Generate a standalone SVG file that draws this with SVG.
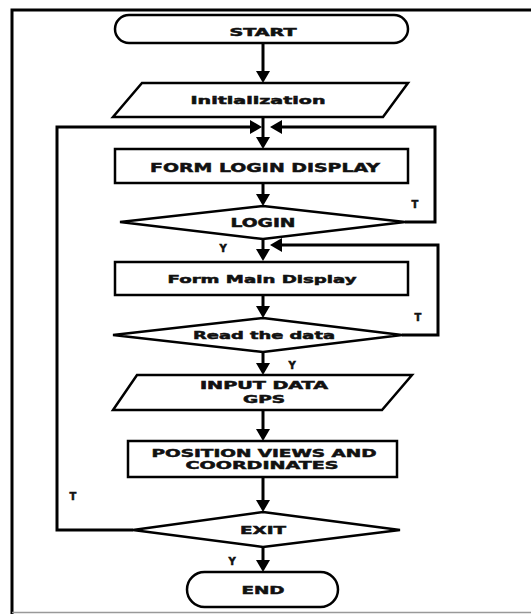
<svg xmlns="http://www.w3.org/2000/svg" width="531" height="614" viewBox="0 0 531 614">
<defs>
<marker id="arr" viewBox="0 0 12 14" refX="8" refY="7" markerWidth="12" markerHeight="14" orient="auto" markerUnits="userSpaceOnUse">
<path d="M0,0 L12,7 L0,14 z" fill="#000"/>
</marker>
</defs>
<style>
.shape{fill:#fff;stroke:#000;stroke-width:2.5}
.conn{fill:none;stroke:#000;stroke-width:3;marker-end:url(#arr)}
text{font-family:"DejaVu Sans","Liberation Sans",sans-serif;font-weight:bold;fill:#111;stroke:#111;stroke-width:0.5;text-anchor:middle}
.lbl{font-size:10px}
</style>
<rect x="0" y="0" width="531" height="614" fill="#fff"/>
<path d="M12,614 L12,10 L531,10" fill="none" stroke="#000" stroke-width="3"/>
<line x1="12" y1="612.5" x2="531" y2="612.5" stroke="#999" stroke-width="1.5"/>

<g id="connectors">
<path class="conn" d="M263,43 L263,79"/>
<path class="conn" d="M263,117 L263,145"/>
<path class="conn" d="M133,530 L57,530 L57,127 L258,127"/>
<path class="conn" d="M405,222 L435,222 L435,127 L274,127"/>
<path class="conn" d="M263,183 L263,202"/>
<path class="conn" d="M263,239 L263,257"/>
<path class="conn" d="M402,335 L438,335 L438,245 L274,245"/>
<path class="conn" d="M263,295 L263,314"/>
<path class="conn" d="M263,352 L263,371"/>
<path class="conn" d="M263,410 L263,437"/>
<path class="conn" d="M263,477 L263,508"/>
<path class="conn" d="M263,547 L263,568"/>
<text class="lbl" x="415" y="208">T</text>
<text class="lbl" x="223" y="252">Y</text>
<text class="lbl" x="418" y="321">T</text>
<text class="lbl" x="292" y="369">Y</text>
<text class="lbl" x="73" y="500">T</text>
<text class="lbl" x="232" y="565">Y</text>
</g>

<g id="start">
<rect class="shape" x="115" y="15" width="293" height="28" rx="14" ry="14"/>
<text x="263" y="36" font-size="10" textLength="67" lengthAdjust="spacingAndGlyphs">START</text>
</g>
<g id="init">
<polygon class="shape" points="142,83 408,83 383,117 113,117"/>
<text x="258" y="104" font-size="11" textLength="135" lengthAdjust="spacingAndGlyphs">Initialization</text>
</g>
<g id="formLogin">
<rect class="shape" x="115" y="149" width="293" height="34"/>
<text x="265" y="172" font-size="13" textLength="230" lengthAdjust="spacingAndGlyphs">FORM LOGIN DISPLAY</text>
</g>
<g id="login">
<polygon class="shape" points="263,206 405,222 263,239 120,222"/>
<text x="263" y="227" font-size="12" textLength="65" lengthAdjust="spacingAndGlyphs">LOGIN</text>
</g>
<g id="formMain">
<rect class="shape" x="115" y="262" width="293" height="33"/>
<text x="262" y="283" font-size="11" textLength="189" lengthAdjust="spacingAndGlyphs">Form Main Display</text>
</g>
<g id="readData">
<polygon class="shape" points="263,318 402,335 263,352 113,335"/>
<text x="264" y="339" font-size="11" textLength="142" lengthAdjust="spacingAndGlyphs">Read the data</text>
</g>
<g id="inputGps">
<polygon class="shape" points="137,375 412,375 382,410 113,410"/>
<text x="264" y="389" font-size="10" textLength="128" lengthAdjust="spacingAndGlyphs">INPUT DATA</text>
<text x="264" y="403" font-size="10" textLength="42" lengthAdjust="spacingAndGlyphs">GPS</text>
</g>
<g id="position">
<rect class="shape" x="128" y="441" width="269" height="36"/>
<text x="264" y="457" font-size="11" textLength="225" lengthAdjust="spacingAndGlyphs">POSITION VIEWS AND</text>
<text x="262" y="469" font-size="11" textLength="153" lengthAdjust="spacingAndGlyphs">COORDINATES</text>
</g>
<g id="exit">
<polygon class="shape" points="263,512 400,530 263,547 133,530"/>
<text x="263" y="534" font-size="11" textLength="46" lengthAdjust="spacingAndGlyphs">EXIT</text>
</g>
<g id="end">
<rect class="shape" x="187" y="572" width="151" height="35" rx="17.5" ry="17.5"/>
<text x="263" y="594" font-size="11" textLength="43" lengthAdjust="spacingAndGlyphs">END</text>
</g>
</svg>
